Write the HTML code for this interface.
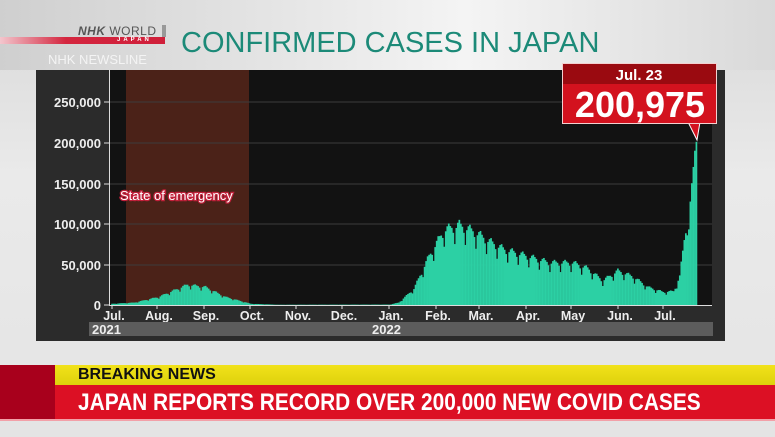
<!DOCTYPE html>
<html><head><meta charset="utf-8"><style>
body{margin:0;width:775px;height:437px;overflow:hidden;font-family:"Liberation Sans",sans-serif;background:linear-gradient(180deg,#d8d8d8 0%,#eaeaea 40%,#e4e4e4 100%);position:relative}
.a{position:absolute}
</style></head><body>
<div class="a" style="left:0;top:0;width:775px;height:70px;background:linear-gradient(90deg,#cfcfcf,#f4f4f4 60%,#d9d9d9)"></div>
<div class="a" style="left:0;top:37px;width:165px;height:7px;background:linear-gradient(90deg,#f3c6cd,#d4263f 40%,#d01f3a)"></div>
<div class="a" style="left:78px;top:24px;font:italic bold 12px 'Liberation Sans';color:#555;letter-spacing:0.5px">NHK <span style="font-style:normal;font-weight:normal">WORLD</span></div>
<div class="a" style="left:117px;top:37px;font:bold 6px 'Liberation Sans';color:#fff;letter-spacing:3px">JAPAN</div>
<div class="a" style="left:162px;top:25px;width:4px;height:12px;background:#999"></div>
<div class="a" style="left:48px;top:52px;font:13px 'Liberation Sans';color:#f4f4f4">NHK NEWSLINE</div>
<div class="a" style="left:181px;top:27px;font:29px 'Liberation Sans';color:#1c8a78">CONFIRMED CASES IN JAPAN</div>
<div class="a" style="left:36px;top:70px;width:689px;height:271px;background:#2b2b2b"></div>
<svg class="a" style="left:0;top:0" width="775" height="437" id="s">
<rect x="110" y="70" width="602" height="235" fill="#121212"/>
<rect x="126" y="70" width="123" height="235" fill="#4b2218"/>
<g stroke="#3c3c3c" stroke-width="1">
<line x1="110" y1="102" x2="712" y2="102"/><line x1="110" y1="143" x2="712" y2="143"/><line x1="110" y1="184" x2="712" y2="184"/><line x1="110" y1="224" x2="712" y2="224"/><line x1="110" y1="265" x2="712" y2="265"/></g>
<g id="bars" fill="#2cd0a4"></g>
<line x1="109.5" y1="70" x2="109.5" y2="306" stroke="#ddd"/>
<line x1="109" y1="305.5" x2="712" y2="305.5" stroke="#ddd"/>
<g stroke="#ddd"><line x1="104" y1="102" x2="109" y2="102"/><line x1="104" y1="143" x2="109" y2="143"/><line x1="104" y1="184" x2="109" y2="184"/><line x1="104" y1="224" x2="109" y2="224"/><line x1="104" y1="265" x2="109" y2="265"/><line x1="104" y1="305" x2="109" y2="305"/></g>
<g fill="#eee" font-family="Liberation Sans" font-weight="bold" font-size="13" text-anchor="end">
<text x="101" y="107">250,000</text><text x="101" y="148">200,000</text><text x="101" y="189">150,000</text><text x="101" y="229">100,000</text><text x="101" y="270">50,000</text><text x="101" y="310">0</text></g>
<g fill="#eee" font-family="Liberation Sans" font-weight="bold" font-size="12.5" text-anchor="middle" id="mon"></g>
<rect x="89" y="322" width="624" height="14" fill="#5c5c5c"/>
<text x="92" y="334" fill="#eee" font-family="Liberation Sans" font-weight="bold" font-size="13">2021</text>
<text x="372" y="334" fill="#eee" font-family="Liberation Sans" font-weight="bold" font-size="13">2022</text>
<text x="120" y="200" fill="#fff" font-family="Liberation Sans" font-size="13" stroke="#c0203a" stroke-width="2.5" paint-order="stroke">State of emergency</text>
<polygon points="688,122 700,122 697,140" fill="#d3121e" stroke="#fff" stroke-width="1"/>
<rect x="562.5" y="63.5" width="154" height="60" fill="#d3121e" stroke="#f3d0d0"/>
<rect x="563" y="64" width="153" height="20" fill="#9a0a10"/>
<text x="639" y="80" fill="#fff" font-family="Liberation Sans" font-weight="bold" font-size="15" text-anchor="middle">Jul. 23</text>
<text x="640" y="117" fill="#fff" font-family="Liberation Sans" font-weight="bold" font-size="36" text-anchor="middle">200,975</text>
</svg>
<div class="a" style="left:0;top:365px;width:55px;height:55px;background:#a8001c"></div>
<div class="a" style="left:55px;top:365px;width:720px;height:20px;background:linear-gradient(#f2e21a,#ded10c)"></div>
<div class="a" style="left:55px;top:385px;width:720px;height:35px;background:#dc1024"></div>
<div class="a" style="left:0;top:419px;width:775px;height:2px;background:#f2a0a8"></div>
<div class="a" style="left:78px;top:366px;font:bold 16px 'Liberation Sans';color:#111">BREAKING NEWS</div>
<div class="a" style="left:78px;top:389px;font:bold 24px 'Liberation Sans',sans-serif;color:#fff;white-space:nowrap;transform-origin:0 0;transform:scaleX(0.87)">JAPAN REPORTS RECORD OVER 200,000 NEW COVID CASES</div>
<script>
var env=[[0,1.5],[15,3],[31,10],[50,25],[62,22],[75,10],[92,1.5],[110,0.3],[184,0.5],[190,3],[200,20],[210,60],[220,92],[230,98],[240,90],[250,78],[260,68],[275,60],[290,52],[305,52],[315,45],[325,30],[335,42],[345,35],[355,22],[365,16],[372,17],[376,35],[379,80],[381,110],[382,95],[384,150],[386,190],[387,201]];
function f(d){for(var i=1;i<env.length;i++){if(d<=env[i][0]){var a=env[i-1],b=env[i];return a[1]+(b[1]-a[1])*(d-a[0])/(b[0]-a[0]);}}return 0;}
var w=[0.98,1.04,1.07,1.03,1.0,0.93,0.78],g=document.getElementById('bars'),h='';
for(var d=0;d<=387;d++){var v=f(d)*(d>=384?1:w[(d+3)%7]);if(d==387)v=200.975;var ph=v*1000/1231.5;var x=112+d*1.51;h+='<rect x="'+(x-0.8).toFixed(2)+'" y="'+(305-ph).toFixed(2)+'" width="1.7" height="'+ph.toFixed(2)+'"/>';}
g.innerHTML=h;
var m=[['Jul.',112],['Aug.',157],['Sep.',204],['Oct.',250],['Nov.',296],['Dec.',342],['Jan.',389],['Feb.',436],['Mar.',479],['Apr.',526],['May',571],['Jun.',618],['Jul.',663]],mh='';
m.forEach(function(p){mh+='<text x="'+(p[1]+2)+'" y="320">'+p[0]+'</text><line x1="'+p[1]+'" y1="305" x2="'+p[1]+'" y2="309" stroke="#ddd"/>';});
document.getElementById('mon').innerHTML=mh;
</script>
</body></html>
